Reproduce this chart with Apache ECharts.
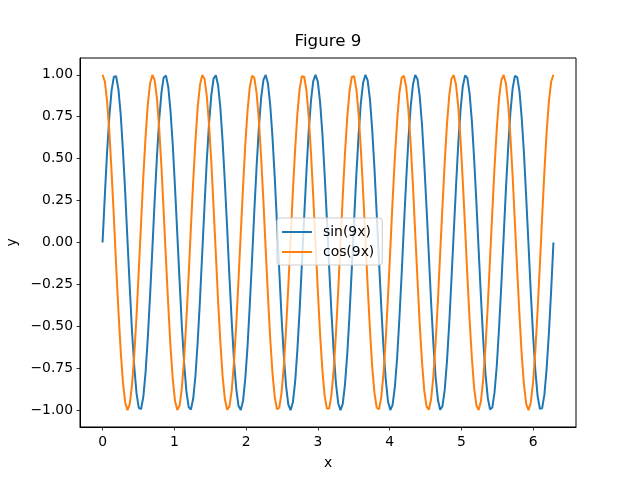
<!DOCTYPE html>
<html>
<head>
<meta charset="utf-8">
<script src="https://cdn.jsdelivr.net/npm/echarts@6/dist/echarts.min.js"></script>
<style>
html, body { margin: 0; padding: 0; background: #fff; }
#main { width: 640px; height: 480px; }
</style>
</head>
<body>
<div id="main"></div>
<script>
var xs = [0, 0.032, 0.063, 0.095, 0.126, 0.158, 0.189, 0.221, 0.253, 0.284,
    0.316, 0.347, 0.379, 0.410, 0.442, 0.474, 0.505, 0.537, 0.568, 0.600,
    0.631, 0.663, 0.695, 0.726, 0.758, 0.789, 0.821, 0.852, 0.884, 0.916,
    0.947, 0.979, 1.010, 1.042, 1.074, 1.105, 1.137, 1.168, 1.200, 1.231,
    1.263, 1.295, 1.326, 1.358, 1.389, 1.421, 1.452, 1.484, 1.516, 1.547,
    1.579, 1.610, 1.642, 1.673, 1.705, 1.737, 1.768, 1.800, 1.831, 1.863,
    1.894, 1.926, 1.958, 1.989, 2.021, 2.052, 2.084, 2.115, 2.147, 2.179,
    2.210, 2.242, 2.273, 2.305, 2.336, 2.368, 2.400, 2.431, 2.463, 2.494,
    2.526, 2.557, 2.589, 2.621, 2.652, 2.684, 2.715, 2.747, 2.778, 2.810,
    2.842, 2.873, 2.905, 2.936, 2.968, 3.000, 3.031, 3.063, 3.094, 3.126,
    3.157, 3.189, 3.221, 3.252, 3.284, 3.315, 3.347, 3.378, 3.410, 3.442,
    3.473, 3.505, 3.536, 3.568, 3.599, 3.631, 3.663, 3.694, 3.726, 3.757,
    3.789, 3.820, 3.852, 3.884, 3.915, 3.947, 3.978, 4.010, 4.041, 4.073,
    4.105, 4.136, 4.168, 4.199, 4.231, 4.262, 4.294, 4.326, 4.357, 4.389,
    4.420, 4.452, 4.483, 4.515, 4.547, 4.578, 4.610, 4.641, 4.673, 4.704,
    4.736, 4.768, 4.799, 4.831, 4.862, 4.894, 4.926, 4.957, 4.989, 5.020,
    5.052, 5.083, 5.115, 5.147, 5.178, 5.210, 5.241, 5.273, 5.304, 5.336,
    5.368, 5.399, 5.431, 5.462, 5.494, 5.525, 5.557, 5.589, 5.620, 5.652,
    5.683, 5.715, 5.746, 5.778, 5.810, 5.841, 5.873, 5.904, 5.936, 5.967,
    5.999, 6.031, 6.062, 6.094, 6.125, 6.157, 6.188, 6.220, 6.252, 6.283];

var sinY = [0, 0.280, 0.538, 0.753, 0.907, 0.989, 0.991, 0.914, 0.763, 0.551, 0.296, 0.016,
    -0.265, -0.525, -0.742, -0.901, -0.986, -0.993, -0.920, -0.773, -0.565, -0.311, -0.032,
    0.250, 0.511, 0.732, 0.894, 0.984, 0.995, 0.926, 0.783, 0.578, 0.326, 0.047,
    -0.235, -0.498, -0.721, -0.886, -0.981, -0.996, -0.932, -0.793, -0.590, -0.340, -0.063,
    0.219, 0.484, 0.710, 0.879, 0.977, 0.997, 0.938, 0.802, 0.603, 0.355, 0.079,
    -0.204, -0.470, -0.699, -0.871, -0.974, -0.998, -0.943, -0.812, -0.616, -0.370, -0.095,
    0.188, 0.456, 0.687, 0.863, 0.970, 0.999, 0.948, 0.821, 0.628, 0.384, 0.110,
    -0.173, -0.442, -0.676, -0.855, -0.966, -1.000, -0.953, -0.830, -0.640, -0.399, -0.126,
    0.157, 0.428, 0.664, 0.847, 0.962, 1.000, 0.958, 0.838, 0.652, 0.413, 0.142,
    -0.142, -0.413, -0.652, -0.838, -0.958, -1.000, -0.962, -0.847, -0.664, -0.428, -0.157,
    0.126, 0.399, 0.640, 0.830, 0.953, 1.000, 0.966, 0.855, 0.676, 0.442, 0.173,
    -0.110, -0.384, -0.628, -0.821, -0.948, -0.999, -0.970, -0.863, -0.687, -0.456, -0.188,
    0.095, 0.370, 0.616, 0.812, 0.943, 0.998, 0.974, 0.871, 0.699, 0.470, 0.204,
    -0.079, -0.355, -0.603, -0.802, -0.938, -0.997, -0.977, -0.879, -0.710, -0.484, -0.219,
    0.063, 0.340, 0.590, 0.793, 0.932, 0.996, 0.981, 0.886, 0.721, 0.498, 0.235,
    -0.047, -0.326, -0.578, -0.783, -0.926, -0.995, -0.984, -0.894, -0.732, -0.511, -0.250,
    0.032, 0.311, 0.565, 0.773, 0.920, 0.993, 0.986, 0.901, 0.742, 0.525, 0.265,
    -0.016, -0.296, -0.551, -0.763, -0.914, -0.991, -0.989, -0.907, -0.753, -0.538, -0.280,
    0];

var cosY = [1, 0.960, 0.843, 0.658, 0.421, 0.149, -0.134, -0.406, -0.646, -0.834, -0.955, -1.000,
    -0.964, -0.851, -0.670, -0.435, -0.165, 0.118, 0.392, 0.634, 0.825, 0.951, 0.999,
    0.968, 0.859, 0.682, 0.449, 0.181, -0.102, -0.377, -0.622, -0.816, -0.945, -0.999,
    -0.972, -0.867, -0.693, -0.463, -0.196, 0.087, 0.363, 0.609, 0.807, 0.940, 0.998,
    0.976, 0.875, 0.704, 0.477, 0.211, -0.071, -0.348, -0.597, -0.798, -0.935, -0.997,
    -0.979, -0.883, -0.715, -0.491, -0.227, 0.055, 0.333, 0.584, 0.788, 0.929, 0.995,
    0.982, 0.890, 0.726, 0.505, 0.242, -0.039, -0.318, -0.571, -0.778, -0.923, -0.994,
    -0.985, -0.897, -0.737, -0.518, -0.258, 0.024, 0.303, 0.558, 0.768, 0.917, 0.992,
    0.988, 0.904, 0.748, 0.531, 0.273, -0.008, -0.288, -0.545, -0.758, -0.911, -0.990,
    -0.990, -0.911, -0.758, -0.545, -0.288, -0.008, 0.273, 0.531, 0.748, 0.904, 0.988,
    0.992, 0.917, 0.768, 0.558, 0.303, 0.024, -0.258, -0.518, -0.737, -0.897, -0.985,
    -0.994, -0.923, -0.778, -0.571, -0.318, -0.039, 0.242, 0.505, 0.726, 0.890, 0.982,
    0.995, 0.929, 0.788, 0.584, 0.333, 0.055, -0.227, -0.491, -0.715, -0.883, -0.979,
    -0.997, -0.935, -0.798, -0.597, -0.348, -0.071, 0.211, 0.477, 0.704, 0.875, 0.976,
    0.998, 0.940, 0.807, 0.609, 0.363, 0.087, -0.196, -0.463, -0.693, -0.867, -0.972,
    -0.999, -0.945, -0.816, -0.622, -0.377, -0.102, 0.181, 0.449, 0.682, 0.859, 0.968,
    0.999, 0.951, 0.825, 0.634, 0.392, 0.118, -0.165, -0.435, -0.670, -0.851, -0.964,
    -1.000, -0.955, -0.834, -0.646, -0.406, -0.134, 0.149, 0.421, 0.658, 0.843, 0.960,
    1];

var xTicks = [0, 1, 2, 3, 4, 5, 6];
var yTicks = [-1, -0.75, -0.5, -0.25, 0, 0.25, 0.5, 0.75, 1];
var seriesNames = ['sin(9x)', 'cos(9x)'];
var colors = ['#1f77b4', '#ff7f0e'];

var toPairs = function (ys) {
    var res = [];
    for (var i = 0; i < xs.length; i++) {
        res.push([xs[i], ys[i]]);
    }
    return res;
};

var font = 'DejaVu Sans';
// thin bar as legend handle, like a matplotlib line handle
var lineIcon = 'path://M0,0 L30,0 L30,2 L0,2 Z';
var myChart = echarts.init(document.getElementById('main'));

var option = {
    animation: false,
    backgroundColor: '#fff',
    title: {
        text: 'Figure 9',
        left: 328,
        top: 33,
        textAlign: 'center',
        padding: 0,
        textStyle: { fontFamily: font, fontSize: 16.7, fontWeight: 'normal', color: '#000' }
    },
    legend: {
        data: [
            { name: seriesNames[0], icon: lineIcon },
            { name: seriesNames[1], icon: lineIcon }
        ],
        orient: 'vertical',
        left: 277,
        top: 218,
        padding: [7, 8, 6, 5],
        itemGap: 6,
        itemWidth: 30,
        itemHeight: 14,
        backgroundColor: 'rgba(255,255,255,0.8)',
        borderColor: '#cccccc',
        borderWidth: 1,
        borderRadius: 3,
        textStyle: { fontFamily: font, fontSize: 13.9, color: '#000', padding: [0, 0, 0, 6] }
    },
    grid: {
        left: 80,
        right: 64,
        top: 58,
        bottom: 53,
        show: true,
        borderColor: '#000',
        borderWidth: 1,
        outerBoundsMode: 'none'
    },
    xAxis: {
        type: 'value',
        min: -0.31416,
        max: 6.59734,
        name: 'x',
        nameLocation: 'middle',
        nameGap: 29,
        nameTextStyle: { fontFamily: font, fontSize: 13.9, color: '#000' },
        axisLine: { show: true, onZero: false, lineStyle: { color: '#000', width: 1 } },
        axisTick: { show: true, length: 3.5, lineStyle: { color: '#000', width: 0.8 }, customValues: xTicks },
        axisLabel: {
            margin: 8,
            fontFamily: font, fontSize: 13.9, color: '#000',
            customValues: xTicks,
            formatter: function (v) { return String(v); }
        },
        splitLine: { show: false }
    },
    yAxis: {
        type: 'value',
        min: -1.1,
        max: 1.1,
        name: 'y',
        nameLocation: 'middle',
        nameGap: 55,
        nameRotate: 90,
        nameTextStyle: { fontFamily: font, fontSize: 13.9, color: '#000' },
        axisLine: { show: true, onZero: false, lineStyle: { color: '#000', width: 1 } },
        axisTick: { show: true, length: 3.5, lineStyle: { color: '#000', width: 0.8 }, customValues: yTicks },
        axisLabel: {
            margin: 7,
            fontFamily: font, fontSize: 13.9, color: '#000',
            customValues: yTicks,
            formatter: function (v) {
                return (v < 0 ? '\u2212' : '') + Math.abs(v).toFixed(2);
            }
        },
        splitLine: { show: false }
    },
    series: [
        {
            name: seriesNames[0],
            type: 'line',
            data: toPairs(sinY),
            symbol: 'none',
            color: colors[0],
            lineStyle: { width: 2, color: colors[0] }
        },
        {
            name: seriesNames[1],
            type: 'line',
            data: toPairs(cosY),
            symbol: 'none',
            color: colors[1],
            lineStyle: { width: 2, color: colors[1] }
        }
    ]
};

myChart.setOption(option);
</script>
</body>
</html>
